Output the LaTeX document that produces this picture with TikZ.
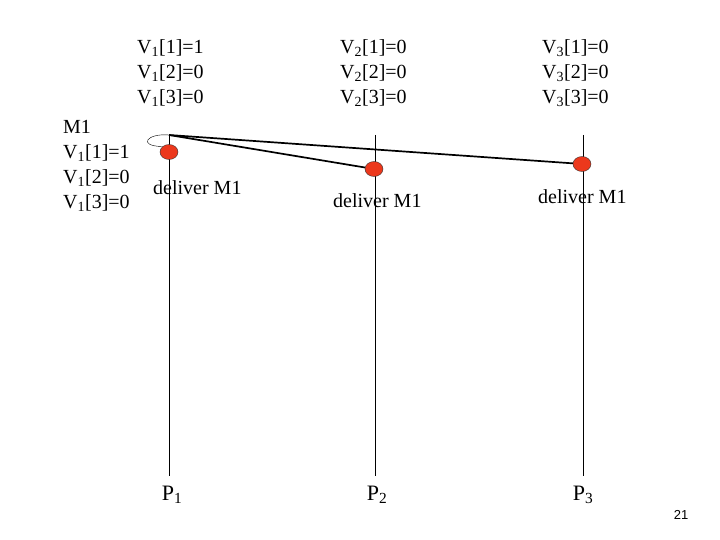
\documentclass[tikz,border=0pt]{standalone}
\usepackage{fontspec}
\setmainfont{Liberation Serif}
\newfontfamily\numfont{Liberation Sans}
\usepackage{tikz}
\definecolor{dotred}{RGB}{236,56,28}
\newcommand{\Vv}[2]{V\textsubscript{#1}[#2]}
\tikzset{
  txt/.style={anchor=west, align=left, inner sep=0pt, font=\fontsize{20}{25}\selectfont},
  proc/.style={inner sep=0pt, font=\fontsize{22}{26}\selectfont},
  evt/.style={draw=black!80, fill=dotred, ellipse, minimum width=18pt, minimum height=15pt, inner sep=0pt},
  msg/.style={line width=1.7pt}
}
\usetikzlibrary{shapes.geometric}

\begin{document}
\begin{tikzpicture}[x=1pt, y=-1pt]
\useasboundingbox (0,0) rectangle (720,540);

\node[txt] (v1) at (137,73) {\Vv{1}{1}=1\\ \Vv{1}{2}=0\\ \Vv{1}{3}=0};
\node[txt] (v2) at (340,73) {\Vv{2}{1}=0\\ \Vv{2}{2}=0\\ \Vv{2}{3}=0};
\node[txt] (v3) at (542,73) {\Vv{3}{1}=0\\ \Vv{3}{2}=0\\ \Vv{3}{3}=0};
\node[txt] (m1) at (63,166) {M1\\ \Vv{1}{1}=1\\ \Vv{1}{2}=0\\ \Vv{1}{3}=0};

% time lines
\coordinate (top1) at (169,135);
\coordinate (top2) at (375,135);
\coordinate (top3) at (583,135);
\node[proc] (p1) at (172,495) {P\textsubscript{1}};
\node[proc] (p2) at (377,495) {P\textsubscript{2}};
\node[proc] (p3) at (583,495) {P\textsubscript{3}};
\draw (top1) -- (169,476);
\draw (top2) -- (375,476);
\draw (top3) -- (583,476);

\node[evt] (e1) at (169,152) {};
\node[evt] (e2) at (374,169) {};
\node[evt] (e3) at (582,164) {};

\draw[msg] (top1) -- (e2);
\draw[msg] (top1) -- (e3);
\draw[thin] (top1) .. controls (147,133) and (137,146) .. (e1.north west);

\node[txt] (d1) at (153,188) {deliver M1};
\node[txt] (d2) at (333,201) {deliver M1};
\node[txt] (d3) at (538,197) {deliver M1};

\node[font=\numfont\fontsize{13}{15}\selectfont] (pg) at (681,515) {21};
\end{tikzpicture}
\end{document}
